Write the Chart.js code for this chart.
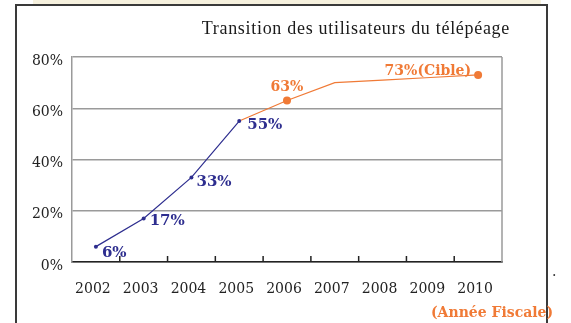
<!DOCTYPE html>
<html>
<head>
<meta charset="utf-8">
<script src="https://cdn.jsdelivr.net/npm/chart.js@4"></script>
<style>
    html, body {
        margin: 0;
        padding: 0;
        width: 571px;
        height: 323px;
        overflow: hidden;
        background: #ffffff;
    }
    #strip {
        position: absolute;
        left: 33px;
        top: 0;
        width: 508px;
        height: 4px;
        background: #f6f1de;
    }
    #frame {
        position: absolute;
        left: 15px;
        top: 4px;
        width: 529px;
        height: 400px;
        border: 2px solid #3a3a3a;
    }
    #users-chart {
        position: absolute;
        left: 0;
        top: 0;
    }
</style>
</head>
<body>
<div id="strip"></div>
<div id="frame"></div>
<canvas id="users-chart" width="571" height="323"></canvas>
<script>
const years = ['2002', '2003', '2004', '2005', '2006', '2007', '2008', '2009', '2010'];
// measured share of users up to 2005, then the planned path up to the 2010 target
const actualUsers = [6, 17, 33, 55, null, null, null, null, null];
const plannedUsers = [null, null, null, 55, 63, 70, 71, 72, 73];
const plannedDots = [4, 8];
const targetIndex = 8;

const titleText = 'Transition des utilisateurs du télépéage';
const yearNote = '(Année Fiscale)';

const NAVY = '#2e2e8f';
const ORANGE = '#f07a36';

function pointLabel(value, i) {
    return i === targetIndex ? value + '%(Cible)' : value + '%';
}

const frameLines = {
    id: 'frameLines',
    beforeDatasetsDraw(chart) {
        const ctx = chart.ctx;
        const area = chart.chartArea;
        const xAxis = chart.scales.x;
        ctx.save();
        // right edge of the plot box
        ctx.beginPath();
        ctx.moveTo(area.right, area.top);
        ctx.lineTo(area.right, area.bottom);
        ctx.lineWidth = 1.5;
        ctx.strokeStyle = '#9a9a9a';
        ctx.stroke();
        // small inner ticks between the years
        ctx.beginPath();
        for (let i = 0; i < years.length - 1; i++) {
            const x = (xAxis.getPixelForTick(i) + xAxis.getPixelForTick(i + 1)) / 2;
            ctx.moveTo(x, area.bottom);
            ctx.lineTo(x, area.bottom - 6);
        }
        ctx.lineWidth = 1.5;
        ctx.strokeStyle = '#222';
        ctx.stroke();
        ctx.restore();
    }
};

const valueLabels = {
    id: 'valueLabels',
    afterDatasetsDraw(chart) {
        const ctx = chart.ctx;
        ctx.save();
        ctx.textBaseline = 'middle';

        const blue = chart.getDatasetMeta(0).data;
        const blueOffsets = [[6, 6], [6, 3], [5, 5], [8, 4]];
        ctx.fillStyle = NAVY;
        ctx.font = 'bold 15px "DejaVu Serif"';
        ctx.textAlign = 'left';
        for (let i = 0; i < 4; i++) {
            const p = blue[i];
            ctx.fillText(pointLabel(actualUsers[i], i), p.x + blueOffsets[i][0], p.y + blueOffsets[i][1]);
        }

        const orange = chart.getDatasetMeta(1).data;
        ctx.fillStyle = ORANGE;
        ctx.font = 'bold 14px "DejaVu Serif"';
        let p = orange[4];
        ctx.textAlign = 'center';
        ctx.fillText(pointLabel(plannedUsers[4], 4), p.x, p.y - 13);
        p = orange[targetIndex];
        ctx.textAlign = 'right';
        ctx.fillText(pointLabel(plannedUsers[targetIndex], targetIndex), p.x - 7, p.y - 4);

        // title and year note
        ctx.fillStyle = '#1a1a1a';
        ctx.font = '18px "Liberation Serif"';
        ctx.letterSpacing = '0.7px';
        ctx.textAlign = 'right';
        ctx.textBaseline = 'alphabetic';
        ctx.fillText(titleText, 510, 34);
        ctx.letterSpacing = '0px';

        ctx.fillStyle = ORANGE;
        ctx.font = 'bold 14px "DejaVu Serif"';
        ctx.textAlign = 'left';
        ctx.fillText(yearNote, 431, 317);
        ctx.fillStyle = '#333';
        ctx.font = '14px "DejaVu Serif"';
        ctx.fillText('.', 552, 276);
        ctx.restore();
    }
};

new Chart(document.getElementById('users-chart').getContext('2d'), {
    type: 'line',
    data: {
        labels: years,
        datasets: [
            {
                data: actualUsers,
                borderColor: NAVY,
                backgroundColor: NAVY,
                borderWidth: 1.2,
                pointRadius: 2,
                pointBorderWidth: 0,
                tension: 0
            },
            {
                data: plannedUsers,
                borderColor: ORANGE,
                backgroundColor: ORANGE,
                borderWidth: 1.2,
                pointRadius: plannedUsers.map((v, i) => plannedDots.includes(i) ? 4 : 0),
                pointBorderWidth: 0,
                tension: 0
            }
        ]
    },
    options: {
        responsive: false,
        devicePixelRatio: 1,
        animation: false,
        events: [],
        layout: {
            padding: {top: 57, right: 69, bottom: 0, left: 0}
        },
        plugins: {
            legend: {display: false},
            title: {display: false},
            tooltip: {enabled: false}
        },
        scales: {
            x: {
                type: 'category',
                offset: true,
                afterFit(scale) { scale.height = 61; },
                grid: {display: false, drawTicks: false},
                border: {display: true, color: '#222', width: 1.5},
                ticks: {
                    color: '#222',
                    padding: 19,
                    labelOffset: -3,
                    maxRotation: 0,
                    font: {family: '"DejaVu Serif"', size: 14}
                }
            },
            y: {
                min: 0,
                max: 80,
                afterFit(scale) { scale.width = 72; },
                grid: {color: '#9a9a9a', lineWidth: 1.5, drawTicks: false},
                border: {display: true, color: '#9a9a9a', width: 1.5},
                ticks: {
                    stepSize: 20,
                    color: '#222',
                    padding: 9,
                    labelOffset: 4,
                    font: {family: '"DejaVu Serif"', size: 14},
                    callback: (v) => v + '%'
                }
            }
        }
    },
    plugins: [frameLines, valueLabels]
});
</script>
</body>
</html>
